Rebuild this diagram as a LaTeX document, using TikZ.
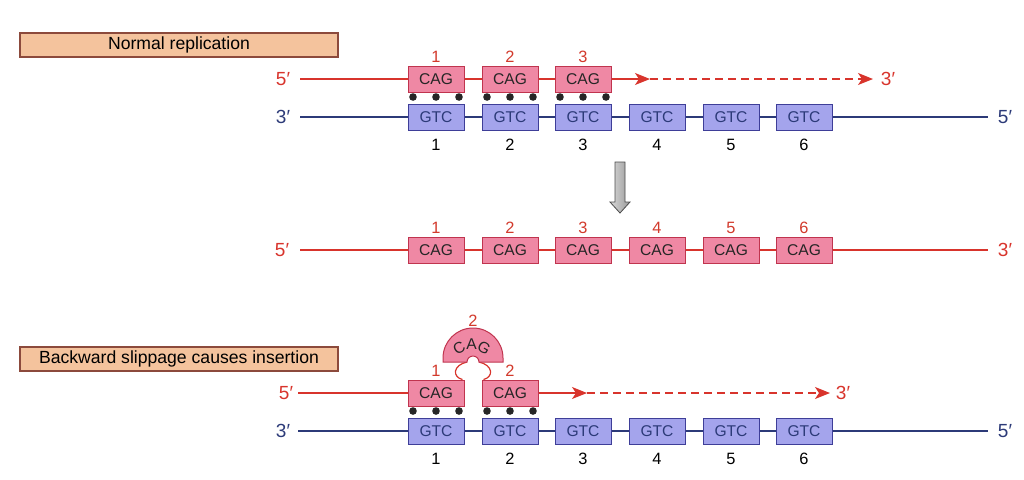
\documentclass[tikz,border=0pt]{standalone}
\usepackage{fontspec}
\setmainfont{Liberation Sans}
\usetikzlibrary{arrows.meta}
\definecolor{ctitle}{HTML}{F4C39D}
\definecolor{ctitled}{HTML}{8C4A3C}
\definecolor{ccag}{HTML}{EF88A4}
\definecolor{ccagd}{HTML}{C0344E}
\definecolor{cgtc}{HTML}{A4A4EC}
\definecolor{cgtcd}{HTML}{3E3E98}
\definecolor{cred}{HTML}{D8342C}
\definecolor{cblue}{HTML}{2C3A78}
\definecolor{cnum}{HTML}{D23A2C}
\tikzset{
  titlebox/.style={draw=ctitled,fill=ctitle,line width=0.7pt,minimum width=159pt,minimum height=12pt,inner sep=0pt,font=\fontsize{8.8}{10}\selectfont},
  cag/.style={draw=ccagd,fill=ccag,line width=0.5pt,minimum width=28pt,minimum height=13pt,inner sep=0pt,font=\fontsize{7.8}{9}\selectfont,text=black!85},
  gtc/.style={cag,draw=cgtcd,fill=cgtc,text=cblue},
  rnum/.style={font=\fontsize{8.2}{9}\selectfont,text=cnum,inner sep=0pt},
  bnum/.style={font=\fontsize{8.2}{9}\selectfont,inner sep=0pt},
  endr/.style={font=\fontsize{9.5}{11}\selectfont,text=cred,inner sep=0pt},
  endb/.style={endr,text=cblue},
  rstr/.style={draw=cred,line width=0.6pt},
  bstr/.style={draw=cblue,line width=0.6pt},
  extarr/.style={rstr,-{Stealth[length=7.5pt,width=6pt,inset=2pt]}},
  dsh/.style={dash pattern=on 4pt off 2.5pt},
  hb/.style={fill=black!85},
  loopl/.style={font=\fontsize{7.8}{9}\selectfont,text=black!85,inner sep=0pt},
}

\begin{document}
\begin{tikzpicture}[x=0.5pt,y=0.5pt]
\useasboundingbox (0,0) rectangle (1024,-479);

% ================= normal replication =================
\node[titlebox] (ttop) at (179,-45) {Normal replication};

% new strand
\node[endr] (a5) at (283,-79) {5′};
\coordinate (a5s) at (300,-79);
\foreach \i/\x in {1/436,2/510,3/583}{
  \node[cag] (ac\i) at (\x,-79) {CAG};
  \node[rnum] (an\i) at (\x,-57) {\i};
  \foreach \d in {-23,0,23} \fill[hb] (\x+\d,-97) circle[radius=1.9pt];
}
\draw[rstr] (a5s) -- (ac1);
\draw[rstr] (ac1) -- (ac2);
\draw[rstr] (ac2) -- (ac3);
\coordinate (atip) at (650,-79);
\coordinate (aend) at (873,-79);
\draw[extarr] (ac3) -- (atip);
\draw[extarr,dsh] (atip) -- (aend);
\node[endr] (a3) at (888,-79) {3′};

% template strand
\node[endb] (b3) at (283,-117) {3′};
\coordinate (b3s) at (300,-117);
\coordinate (b5e) at (988,-117);
\node[endb] (b5) at (1005,-117) {5′};
\foreach \i/\x in {1/436,2/510,3/583,4/657,5/731,6/804}{
  \node[gtc] (ag\i) at (\x,-117) {GTC};
  \node[bnum] (agn\i) at (\x,-145) {\i};
}
\draw[bstr] (b3s) -- (ag1);
\foreach \i/\j in {1/2,2/3,3/4,4/5,5/6} \draw[bstr] (ag\i) -- (ag\j);
\draw[bstr] (ag6) -- (b5e);

% ================= result =================
\draw[draw=gray!60!black,line width=0.4pt,left color=gray!30,right color=gray!80]
  (615,-162) -- (625,-162) -- (625,-202) -- (630,-202) -- (620,-213) -- (610,-202) -- (615,-202) -- cycle;

\node[endr] (m5) at (282,-250) {5′};
\coordinate (m5s) at (300,-250);
\coordinate (m3e) at (988,-250);
\node[endr] (m3) at (1005,-250) {3′};
\foreach \i/\x in {1/436,2/510,3/583,4/657,5/731,6/804}{
  \node[cag] (mc\i) at (\x,-250) {CAG};
  \node[rnum] (mn\i) at (\x,-228) {\i};
}
\draw[rstr] (m5s) -- (mc1);
\foreach \i/\j in {1/2,2/3,3/4,4/5,5/6} \draw[rstr] (mc\i) -- (mc\j);
\draw[rstr] (mc6) -- (m3e);

% ================= backward slippage =================
\node[titlebox] (tbot) at (179,-359) {Backward slippage causes insertion};

\node[endr] (c5) at (286,-393) {5′};
\coordinate (c5s) at (298,-393);
\foreach \i/\x in {1/436,2/510}{
  \node[cag] (cc\i) at (\x,-393) {CAG};
  \node[rnum] (cn\i) at (\x,-371) {\i};
  \foreach \d in {-23,0,23} \fill[hb] (\x+\d,-411) circle[radius=1.9pt];
}
\draw[rstr] (c5s) -- (cc1);
\coordinate (ctip) at (587,-393);
\coordinate (cend) at (830,-393);
\draw[extarr] (cc2) -- (ctip);
\draw[extarr,dsh] (ctip) -- (cend);
\node[endr] (c3) at (843,-393) {3′};

% looped-out repeat
\coordinate (nL) at (467,-362);
\coordinate (nR) at (479,-362);
\draw[rstr] ([xshift=-1pt]cc1.north east) .. controls (452,-377) and (453,-365) .. (nL);
\draw[rstr] ([xshift=1pt]cc2.north west) .. controls (494,-377) and (493,-365) .. (nR);
\draw[draw=ccagd,fill=ccag,line width=0.5pt]
  (443,-362) -- (443,-358) arc[start angle=180,end angle=0,radius=15pt]
  -- (503,-362) -- (nR) arc[start angle=0,end angle=180,radius=3pt] -- cycle;
\node[loopl,rotate=30] (lc) at (459,-348) {C};
\node[loopl] (la) at (471.5,-344) {A};
\node[loopl,rotate=-30] (lg) at (484,-348) {G};
\node[rnum] (ln) at (473,-321) {2};

% template strand
\node[endb] (d3) at (283,-431) {3′};
\coordinate (d3s) at (298,-431);
\coordinate (d5e) at (988,-431);
\node[endb] (d5) at (1005,-431) {5′};
\foreach \i/\x in {1/436,2/510,3/583,4/657,5/731,6/804}{
  \node[gtc] (dg\i) at (\x,-431) {GTC};
  \node[bnum] (dgn\i) at (\x,-459) {\i};
}
\draw[bstr] (d3s) -- (dg1);
\foreach \i/\j in {1/2,2/3,3/4,4/5,5/6} \draw[bstr] (dg\i) -- (dg\j);
\draw[bstr] (dg6) -- (d5e);
\end{tikzpicture}
\end{document}
